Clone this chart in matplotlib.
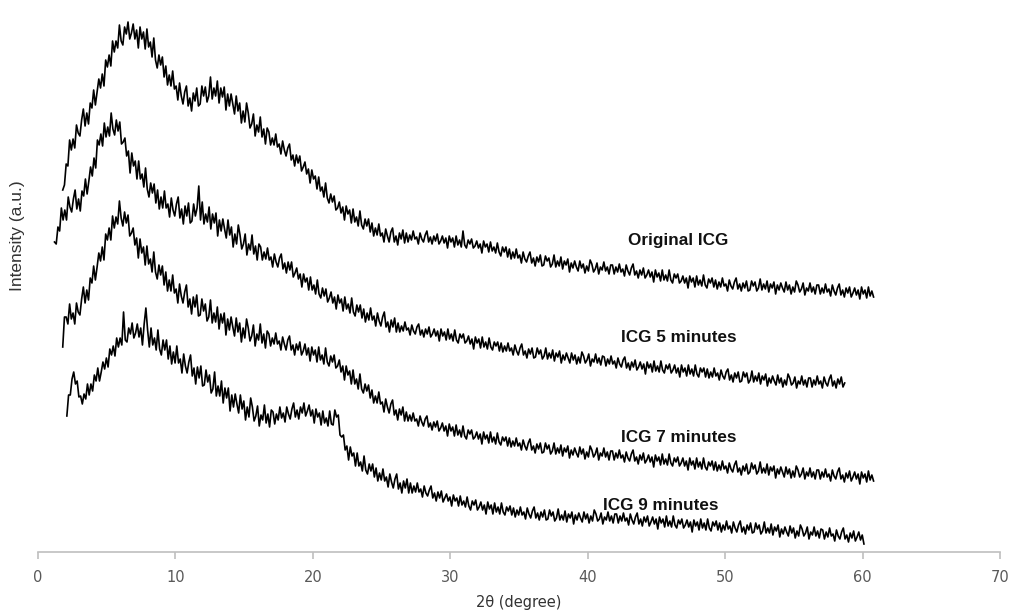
import numpy as np
import matplotlib
matplotlib.use("Agg")
import matplotlib.pyplot as plt

# 2theta ranges of the four scans (deg), sampled every 0.125 deg
x_original = (1.8, 60.8)
x_5min = (1.2, 58.7)
x_7min = (1.8, 60.8)
x_9min = (2.1, 60.1)

# intensities (a.u.), offset stacked as in the figure (one row = 5 deg)
original_icg = [
    362, 367, 388, 386, 412, 402, 413, 404, 427, 419, 416, 432, 443, 426, 439, 428, 449, 444, 462, 447,
    460, 473, 464, 478, 466, 492, 485, 497, 486, 511, 500, 511, 504, 527, 511, 507, 525, 518, 530, 513,
    519, 528, 513, 522, 504, 525, 513, 520, 503, 523, 505, 510, 495, 514, 492, 484, 497, 487, 495, 475,
    486, 467, 477, 466, 481, 463, 466, 452, 469, 456, 448, 460, 466, 446, 454, 441, 459, 451, 464, 446,
    448, 466, 456, 465, 450, 456, 475, 453, 464, 456, 471, 449, 464, 455, 465, 442, 458, 446, 458, 448,
    438, 456, 441, 449, 429, 441, 430, 449, 439, 424, 428, 438, 416, 427, 420, 435, 415, 423, 408, 424,
    420, 407, 414, 407, 418, 405, 408, 398, 411, 402, 396, 404, 408, 392, 397, 386, 397, 389, 396, 381,
    385, 390, 378, 383, 369, 382, 373, 376, 363, 375, 361, 365, 355, 369, 354, 349, 358, 350, 356, 342,
    344, 350, 339, 345, 332, 346, 338, 342, 329, 343, 330, 335, 326, 341, 327, 323, 333, 326, 333, 320,
    329, 316, 324, 317, 328, 316, 319, 310, 323, 316, 310, 320, 324, 310, 316, 307, 319, 313, 322, 309,
    319, 310, 317, 312, 321, 313, 315, 308, 319, 313, 310, 317, 321, 310, 315, 308, 316, 311, 318, 308,
    311, 316, 309, 314, 304, 316, 310, 314, 305, 316, 307, 312, 305, 321, 307, 304, 312, 308, 313, 304,
    306, 311, 304, 308, 299, 311, 305, 308, 300, 310, 301, 305, 299, 309, 300, 296, 305, 300, 305, 295,
    303, 293, 300, 294, 303, 294, 297, 289, 300, 293, 290, 296, 300, 289, 294, 286, 295, 290, 297, 286,
    287, 296, 291, 294, 285, 288, 297, 285, 291, 286, 295, 283, 291, 287, 293, 280, 289, 284, 291, 285,
    281, 291, 284, 288, 279, 286, 281, 292, 288, 280, 283, 289, 278, 285, 282, 290, 281, 285, 278, 287,
    287, 278, 285, 280, 288, 280, 283, 276, 287, 281, 277, 284, 288, 277, 281, 274, 282, 277, 284, 274,
    277, 282, 275, 280, 270, 282, 275, 279, 271, 282, 272, 277, 271, 282, 272, 269, 278, 274, 278, 269,
    271, 276, 269, 274, 264, 276, 270, 274, 265, 276, 267, 272, 266, 277, 267, 264, 273, 269, 274, 265,
    272, 263, 270, 265, 274, 266, 268, 261, 272, 266, 263, 270, 274, 263, 268, 261, 269, 264, 271, 261,
    262, 271, 266, 270, 261, 264, 273, 262, 268, 263, 271, 260, 268, 264, 270, 258, 267, 262, 269, 264,
    260, 270, 262, 267, 258, 265, 260, 271, 267, 260, 263, 269, 257, 264, 261, 269, 260, 265, 258, 267,
    267, 258, 264, 259, 268, 260, 263, 256, 267, 261, 257, 264, 268, 257, 262, 255, 264, 259, 265, 255,
    259, 264, 257, 262, 253, 265, 258, 262, 254, 265, 256, 261, 255,
]
icg_5min = [
    310, 308, 325, 321, 344, 332, 342, 332, 355, 345, 340, 353, 362, 343, 353, 341, 361, 356, 373, 358,
    371, 385, 376, 394, 384, 412, 407, 418, 406, 429, 415, 425, 416, 439, 423, 417, 432, 421, 430, 408,
    410, 414, 396, 401, 379, 399, 386, 391, 373, 391, 373, 378, 365, 384, 363, 355, 369, 359, 368, 349,
    362, 343, 355, 344, 361, 344, 348, 335, 354, 342, 336, 348, 355, 334, 343, 328, 346, 336, 349, 329,
    331, 348, 336, 344, 366, 332, 350, 328, 338, 330, 345, 323, 338, 329, 339, 316, 332, 321, 333, 323,
    314, 332, 317, 325, 305, 318, 308, 327, 317, 303, 308, 318, 297, 308, 302, 317, 298, 306, 292, 308,
    305, 292, 300, 293, 304, 292, 295, 285, 298, 290, 285, 294, 298, 283, 289, 279, 290, 282, 290, 275,
    279, 284, 273, 278, 265, 278, 270, 274, 262, 275, 262, 267, 258, 272, 258, 254, 264, 256, 263, 250,
    254, 260, 249, 255, 243, 257, 249, 253, 241, 255, 243, 248, 239, 254, 240, 236, 247, 240, 247, 234,
    243, 230, 239, 232, 244, 232, 236, 226, 239, 231, 226, 235, 240, 225, 230, 220, 232, 225, 234, 220,
    229, 220, 226, 221, 230, 222, 224, 217, 227, 221, 218, 225, 228, 217, 222, 215, 223, 218, 225, 215,
    218, 223, 216, 221, 211, 223, 216, 220, 212, 223, 213, 218, 211, 222, 212, 209, 218, 214, 218, 209,
    211, 216, 208, 213, 203, 215, 209, 213, 204, 215, 205, 210, 203, 214, 205, 202, 210, 206, 210, 201,
    209, 200, 206, 201, 209, 201, 204, 197, 207, 201, 197, 204, 208, 197, 201, 194, 203, 198, 204, 194,
    195, 204, 198, 202, 193, 196, 204, 193, 199, 194, 202, 191, 199, 195, 201, 189, 197, 192, 199, 194,
    189, 199, 192, 197, 188, 195, 189, 200, 196, 189, 192, 198, 186, 193, 190, 198, 189, 194, 187, 196,
    195, 186, 193, 188, 196, 188, 191, 184, 194, 188, 185, 192, 195, 184, 189, 182, 190, 185, 192, 182,
    185, 190, 183, 188, 178, 190, 184, 188, 180, 191, 181, 186, 180, 191, 182, 179, 187, 183, 188, 179,
    182, 187, 179, 184, 175, 187, 180, 184, 176, 187, 178, 183, 176, 187, 178, 175, 184, 180, 184, 175,
    183, 174, 180, 175, 184, 176, 179, 172, 182, 176, 173, 180, 183, 172, 177, 170, 179, 174, 180, 170,
    171, 180, 175, 179, 169, 172, 181, 170, 176, 171, 179, 168, 176, 172, 178, 166, 174, 169, 176, 171,
    167, 177, 169, 174, 165, 172, 167, 178, 174, 167, 169, 175, 164, 171, 168, 176, 167, 172, 165, 174,
    174, 165, 172, 167, 176, 168, 171, 164, 175, 169, 166, 173, 177, 166, 171, 164, 173, 168, 175, 165,
    169,
]
icg_7min = [
    205, 235, 235, 228, 248, 233, 239, 228, 249, 240, 237, 253, 265, 249, 262, 252, 274, 269, 286, 272,
    285, 299, 291, 305, 292, 318, 312, 324, 312, 336, 324, 335, 328, 351, 334, 326, 340, 329, 337, 316,
    319, 324, 307, 314, 294, 313, 299, 305, 287, 306, 288, 293, 280, 300, 280, 273, 287, 277, 286, 267,
    280, 261, 272, 261, 277, 259, 263, 249, 268, 256, 249, 260, 267, 245, 253, 238, 255, 245, 257, 236,
    237, 253, 241, 248, 231, 235, 252, 229, 239, 230, 245, 223, 238, 229, 239, 217, 233, 222, 235, 225,
    216, 234, 220, 229, 210, 224, 214, 233, 224, 211, 216, 227, 206, 218, 212, 228, 209, 218, 204, 221,
    218, 206, 214, 208, 219, 208, 211, 202, 215, 208, 202, 212, 216, 202, 207, 197, 208, 202, 210, 197,
    201, 208, 197, 204, 191, 205, 197, 202, 190, 205, 192, 197, 188, 204, 190, 186, 196, 190, 197, 184,
    186, 192, 180, 186, 172, 186, 177, 181, 168, 182, 168, 173, 163, 178, 163, 159, 168, 161, 167, 154,
    162, 149, 156, 149, 160, 148, 150, 140, 153, 145, 139, 148, 152, 137, 142, 132, 143, 137, 145, 131,
    140, 131, 137, 131, 139, 131, 133, 126, 136, 130, 126, 133, 136, 125, 129, 122, 130, 125, 131, 121,
    124, 129, 121, 126, 116, 128, 121, 125, 116, 127, 117, 122, 115, 126, 116, 113, 122, 118, 122, 113,
    115, 120, 113, 118, 108, 120, 113, 117, 109, 120, 110, 115, 108, 119, 110, 107, 115, 111, 115, 106,
    114, 105, 111, 106, 114, 106, 109, 102, 112, 106, 102, 109, 113, 102, 106, 99, 108, 103, 109, 99,
    100, 109, 103, 107, 98, 101, 109, 98, 104, 99, 107, 96, 104, 100, 106, 94, 102, 97, 104, 99,
    95, 105, 98, 103, 93, 100, 95, 106, 102, 95, 98, 104, 92, 99, 96, 104, 95, 100, 92, 101,
    101, 92, 99, 94, 102, 94, 97, 90, 100, 94, 91, 98, 102, 91, 95, 88, 97, 92, 99, 89,
    92, 97, 90, 95, 85, 97, 91, 95, 87, 98, 88, 93, 87, 98, 89, 86, 94, 90, 95, 86,
    89, 94, 86, 91, 82, 94, 87, 91, 83, 94, 85, 90, 83, 94, 85, 82, 90, 86, 91, 82,
    90, 81, 87, 82, 91, 83, 86, 79, 89, 83, 80, 87, 91, 80, 84, 77, 86, 81, 88, 78,
    80, 89, 83, 87, 78, 81, 90, 79, 84, 79, 88, 77, 85, 81, 86, 74, 83, 78, 85, 80,
    75, 85, 78, 83, 74, 81, 75, 86, 82, 75, 78, 84, 73, 80, 76, 84, 75, 80, 73, 82,
    82, 73, 80, 75, 83, 75, 78, 71, 82, 76, 73, 80, 84, 73, 77, 70, 79, 74, 81, 71,
    75, 80, 73, 78, 68, 80, 74, 78, 70, 81, 72, 77, 71,
]
icg_9min = [
    136, 157, 157, 173, 180, 168, 171, 155, 156, 148, 158, 153, 168, 157, 168, 161, 177, 171, 184, 171,
    180, 190, 183, 194, 185, 203, 197, 206, 196, 214, 205, 214, 207, 240, 212, 210, 224, 218, 229, 214,
    219, 228, 215, 224, 207, 228, 244, 222, 205, 224, 207, 214, 202, 222, 203, 197, 212, 202, 212, 193,
    206, 188, 200, 189, 206, 189, 193, 179, 198, 186, 179, 190, 197, 176, 184, 168, 185, 174, 186, 166,
    167, 182, 170, 177, 159, 163, 180, 156, 166, 156, 171, 149, 164, 154, 164, 141, 157, 145, 158, 148,
    139, 157, 143, 151, 132, 145, 135, 154, 145, 131, 136, 146, 126, 137, 132, 147, 129, 138, 125, 142,
    140, 128, 138, 132, 145, 134, 139, 130, 145, 138, 133, 143, 149, 135, 142, 133, 145, 139, 149, 136,
    141, 147, 136, 142, 129, 143, 135, 139, 127, 141, 129, 134, 126, 141, 128, 127, 142, 135, 137, 117,
    115, 117, 102, 106, 92, 105, 96, 99, 86, 99, 86, 90, 81, 96, 82, 78, 88, 81, 88, 75,
    84, 71, 79, 72, 83, 71, 75, 65, 78, 70, 64, 73, 78, 63, 69, 59, 71, 64, 73, 59,
    69, 59, 66, 60, 69, 60, 63, 55, 66, 59, 56, 62, 66, 54, 59, 51, 60, 54, 61, 50,
    54, 58, 51, 55, 46, 57, 51, 54, 46, 56, 47, 51, 45, 55, 46, 42, 51, 47, 52, 42,
    45, 50, 42, 47, 38, 50, 43, 47, 38, 49, 40, 45, 38, 49, 40, 37, 45, 41, 46, 37,
    44, 35, 42, 37, 45, 37, 40, 33, 44, 38, 34, 41, 45, 34, 39, 32, 40, 35, 42, 32,
    33, 42, 36, 40, 31, 34, 43, 32, 37, 32, 41, 30, 38, 34, 40, 28, 37, 32, 39, 34,
    30, 40, 33, 38, 29, 36, 31, 42, 38, 31, 33, 39, 28, 35, 32, 40, 31, 36, 29, 38,
    38, 29, 36, 31, 39, 31, 34, 27, 38, 32, 28, 35, 39, 28, 33, 26, 35, 30, 36, 26,
    30, 35, 28, 33, 23, 35, 29, 33, 25, 36, 26, 31, 25, 36, 27, 24, 32, 28, 33, 24,
    27, 32, 25, 30, 20, 32, 26, 30, 22, 33, 24, 29, 22, 33, 24, 21, 30, 26, 31, 22,
    29, 20, 27, 22, 31, 23, 26, 19, 30, 24, 20, 27, 31, 20, 25, 18, 27, 22, 29, 19,
    20, 29, 23, 27, 18, 21, 30, 19, 24, 19, 28, 17, 25, 21, 27, 15, 23, 18, 25, 20,
    16, 26, 19, 24, 14, 21, 16, 27, 23, 16, 19, 25, 13, 20, 17, 25, 16, 21, 14, 23,
    22, 13, 20, 15, 24, 16, 18, 11, 22, 16, 13, 20, 24, 13, 17, 10, 19, 14, 21, 11,
    15, 20, 12, 17, 8,
]

labels = ["Original ICG", "ICG 5 minutes", "ICG 7 minutes", "ICG 9 minutes"]
label_pos = [(42.9, 312), (42.4, 214), (42.4, 114), (41.1, 46)]

fig = plt.figure(figsize=(10.16, 6.14), dpi=100)
ax = fig.add_axes([38 / 1016, 62 / 614, 962 / 1016, 552 / 614])

for rng, ys in [(x_original, original_icg), (x_5min, icg_5min),
                (x_7min, icg_7min), (x_9min, icg_9min)]:
    xs = np.linspace(rng[0], rng[1], len(ys))
    ax.plot(xs, ys, color="black", lw=1.2)

for lab, (lx, ly) in zip(labels, label_pos):
    ax.text(lx, ly, lab, fontsize=12.3, fontweight="bold", family="Liberation Sans",
            ha="left", va="center", color="#111111")

ax.set_xlim(0, 70)
ax.set_ylim(0, 552)
ax.set_xticks(range(0, 71, 10))
ax.set_yticks([])
for s in ["top", "right", "left"]:
    ax.spines[s].set_visible(False)
ax.spines["bottom"].set_color("#bfbfbf")
ax.spines["bottom"].set_linewidth(1.2)
ax.tick_params(axis="x", direction="out", length=5, color="#bfbfbf", width=1.2,
               labelcolor="#595959", labelsize=10.5, pad=8)
for t in ax.get_xticklabels():
    t.set_family(["Liberation Sans Narrow", "DejaVu Sans"])

fig.text(519 / 1016, 1 - 603 / 614, "2θ (degree)", ha="center", va="center",
         fontsize=10.5, color="#333333", family=["Liberation Sans Narrow", "DejaVu Sans"])
fig.text(18 / 1016, 1 - 236 / 614, "Intensity (a.u.)", rotation=90, ha="center",
         va="center", fontsize=12.5, color="#333333", family="Liberation Sans")

fig.savefig("out.png", dpi=100)
